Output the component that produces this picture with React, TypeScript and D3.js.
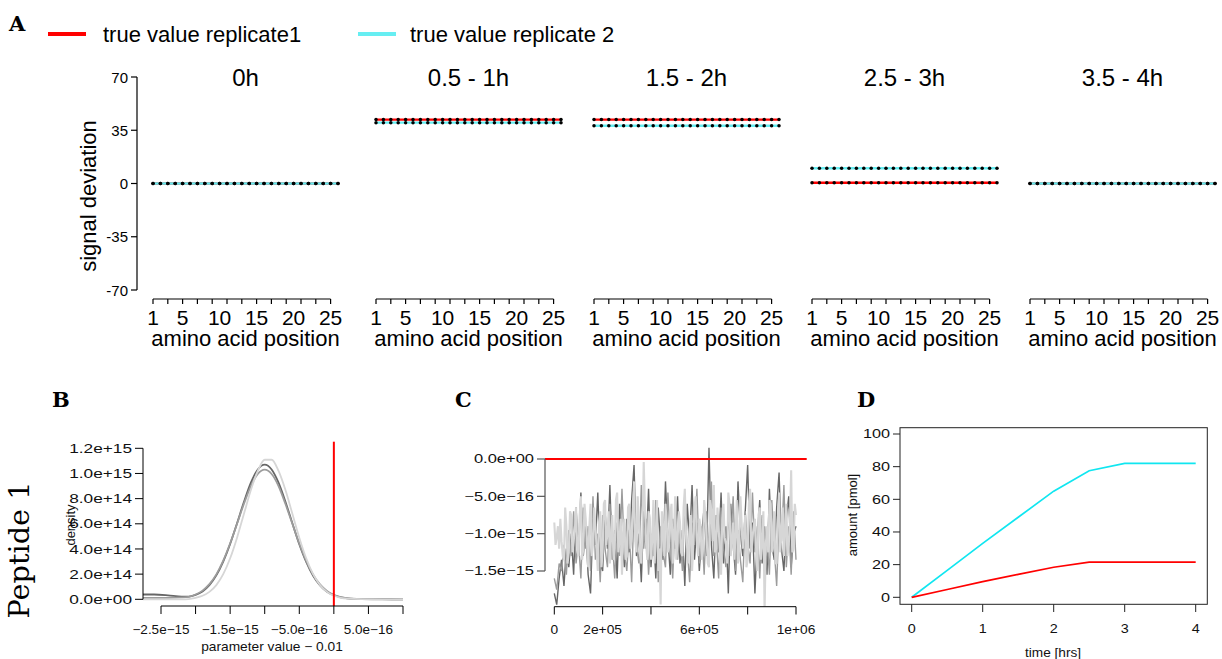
import React from "react";
import * as d3 from "d3";

const W = 1222;
const H = 659;
const sans = "'Liberation Sans', Arial, Helvetica, sans-serif";
const serif = "'DejaVu Serif', 'Liberation Serif', serif";

// ---------- A: signal deviation per amino acid position ----------
const timeWindows = ["0h", "0.5 - 1h", "1.5 - 2h", "2.5 - 3h", "3.5 - 4h"];
const replicate1Deviation = [0, 42, 42, 0.5, 0];
const replicate2Deviation = [0, 40, 38, 10, 0];
const peptideLength = 26;
const signalTicks = [-70, -35, 0, 35, 70];
const positionTickLabels = [1, 5, 10, 15, 20, 25];
const legendLabels = ["true value replicate1", "true value replicate 2"];

// ---------- B: posterior densities (x in 1e-16, density in 1e14) ----------
const densityGrid = [-28, -26, -24, -22, -21, -20, -19, -18, -17, -16, -15, -14, -13, -12, -11, -10, -9, -8, -7, -6, -5, -4, -3, -2, -1, 0, 1, 2, 4, 7, 10];
const densityChain1 = [0.38, 0.38, 0.32, 0.22, 0.22, 0.35, 0.62, 1.12, 1.9, 3.0, 4.4, 6.05, 7.75, 9.27, 10.32, 10.7, 10.32, 9.27, 7.75, 6.04, 4.38, 2.97, 1.87, 1.1, 0.6, 0.32, 0.16, 0.08, 0.03, 0.01, 0];
const densityChain2 = [0.12, 0.12, 0.12, 0.15, 0.2, 0.38, 0.69, 1.2, 1.98, 3.07, 4.45, 6.0, 7.6, 9.0, 9.96, 10.3, 9.96, 9.0, 7.57, 6.0, 4.43, 3.05, 1.96, 1.18, 0.67, 0.36, 0.17, 0.08, 0.02, 0, 0];
const densityChain3 = [0, 0, 0, 0, 0.02, 0.12, 0.28, 0.59, 1.13, 2.0, 3.26, 4.9, 6.8, 8.68, 10.2, 11.09, 11.09, 10.2, 8.68, 6.8, 4.9, 3.26, 2.0, 1.13, 0.59, 0.28, 0.12, 0.05, 0.01, 0, 0];
const densityYTicks = [0, 2, 4, 6, 8, 10, 12];
const densityXTicks = [-25, -20, -15, -10, -5, 0, 5, 10];
const densityXLabelled = [-25, -15, -5, 5];

// ---------- C: MCMC traces (values in 1e-16) ----------
const traceChain1 = [-18, -19.5, -16, -13.5, -17, -12, -14.5, -10, -15.5, -6.5, -12.5, -4.5, -13, -9, -15.5, -18, -8, -11.5, -4.5, -14, -15, -7, -12, -3.5, -13.5, -9.5, -16, -6, -11, -14.5, -8, -12.5, -5.5, -0.8, -13, -10, -16.5, -7, -12, -4, -14.5, -9.5, -16, -6.5, -11.5, -13.5, -3, -10.5, -15.5, -8, -12, -5, -14, -9.5, -17, -6, -11, -3.5, -13.5, -8.5, -15, -10, -6.5, -13, 1.5, -11.5, -16, -7.5, -12.5, -4.5, -14, -9, -18, -6, -11.5, -15.5, -3, -10, -13, -7, -0.8, -12, -8.5, -18, -10.5, -5.5, -14, -9, -15.5, -4, -11.5, -13.5, -6.5, -1.8, -12, -15, -8, -5, -14.5, -10, -9];
const traceChain2 = [-16, -17.5, -14, -15, -11.5, -15.5, -9.5, -13, -7, -14, -11, -16, -6.5, -12, -9, -15, -5, -13.5, -10, -16.5, -7.5, -12, -14.5, -6, -11, -16, -8.5, -13, -4, -12.5, -15, -9.5, -16.5, -6.5, -11.5, -14, -3.5, -12, -8, -15.5, -10, -13, -5.5, -16.5, -9, -12.5, -14.5, -4.5, -11, -16, -7.5, -13.5, -10, -15, -6, -12, -16.5, -8.5, -11.5, -4, -14, -9, -15.5, -7, -12.5, -3, -13, -10.5, -16, -6.5, -12, -14.5, -8, -11, -5, -15, -9.5, -13.5, -16.5, -7, -11.5, -14, -4.5, -12.5, -9, -16, -7.5, -13, -10.5, -15.5, -5.5, -12, -17, -8, -11, -3.5, -14.5, -9, -15.5, -7, -13.5];
const traceChain3 = [
  -8.5, -11.5, -10.5, -9, -12, -8, -11, -13, -13.5, -6.5, -9, -14, -12.5, -7, -7.5, -12.5, -11, -9.5, -6.5, -12,
  -13, -7.5, -5, -13.5, -12, -6, -8, -11, -14.5, -9, -6, -13, -11.5, -6.5, -9, -12, -15, -8.5, -7, -14.5,
  -12.5, -6, -5.5, -11.5, -10, -7, -14, -10.5, -7.5, -13.5, -12, -5.5, -4.5, -12.5, -11, -8, -15.5, -10, -8, -13.5,
  -13, -6.5, -6, -12, -10.5, -7.5, -3, -11, -12.5, -5, -8.5, -13, -14, -9.5, -0.4, -6.5, -11.5, -13.5, -7, -8,
  -13.5, -11, -5.5, -14, -10, -5.5, -15, -12, -19.5, -7, -9, -13, -6, -8.5, -12.5, -11, -7.5, -6, -14, -10.5,
  -5, -13.5, -11, -7, -8.5, -12.5, -13, -6.5, -4, -10, -12, -14, -9.5, -7.5, -15, -11.5, -6.5, -5, -11, -13,
  -8, -9, -13.5, -12, -5.5, -7.5, -10.5, -14, -14.5, -5.5, -7, -11, -3.5, -12.5, -12, -6.5, -9, -13, -15.5, -8,
  -6, -10.5, -11.5, -14, -4.5, -6, -13, -11, -8.5, -13.5, -10, -5.5, -14, -12, -5, -8.5, -12, -10, -7.5, -14.5,
  -13.5, -6, -4, -12.5, -10.5, -9, -8, -12, -15, -7.5, -6.5, -13.5, -11, -7, -20.5, -11.5, -9, -12.5, -5.5, -6,
  -12.5, -10.5, -7, -14, -14, -8, -4.5, -12.5, -10, -6.5, -13, -10, -6, -13, -11.5, -8.5, -1.5, -12.5, -12, -6,
  -7.5,
];
const iterations = 1e6;
const traceYTicks = [-15, -10, -5, 0];
const traceXTicks = [0, 2e5, 4e5, 6e5, 8e5, 1e6];
const traceXLabelled = [0, 2e5, 6e5, 1e6];
const traceXLabels = ["0", "2e+05", "6e+05", "1e+06"];

// ---------- D: simulated amounts ----------
const hours = [0, 0.5, 1, 1.5, 2, 2.5, 3, 3.5, 4];
const amountReplicate1 = [0, 4.8, 9.6, 14, 18.4, 21.5, 21.5, 21.5, 21.5];
const amountReplicate2 = [0, 16.5, 33, 49, 65, 77.5, 82, 82, 82];
const amountTicks = [0, 20, 40, 60, 80, 100];
const hourTicks = [0, 1, 2, 3, 4];

const RED = "#ff0000";
const CYAN_A = "#66eef2";
const CYAN_D = "#10e6f0";
const CHAIN_COLORS = ["#666666", "#9c9c9c", "#d6d6d6"];
const CHAIN_WIDTHS = [1.4, 1.4, 2.1];

// R-style scientific label, e.g. 1.2e+15, −5.0e−16
function sci(v: number, digits = 1): string {
  if (v === 0) return (0).toFixed(digits) + "e+00";
  const e = Math.floor(Math.log10(Math.abs(v)) + 1e-9);
  const m = v / Math.pow(10, e);
  const ms = m.toFixed(digits).replace("-", "\u2212");
  const es = String(Math.abs(e)).padStart(2, "0");
  return `${ms}e${e < 0 ? "\u2212" : "+"}${es}`;
}

type LabelProps = {
  x: number;
  y: number;
  size: number;
  anchor?: "start" | "middle" | "end";
  sx?: number;
  rotate?: number;
  weight?: string | number;
  family?: string;
  fill?: string;
  baseline?: string;
  textLength?: number;
  children: React.ReactNode;
};

function Label({ x, y, size, anchor = "middle", sx = 1, rotate = 0, weight = "normal", family = sans, fill = "#000", baseline = "central", textLength, children }: LabelProps) {
  return (
    <text
      transform={`translate(${x},${y}) rotate(${rotate}) scale(${sx},1)`}
      fontSize={size}
      textAnchor={anchor}
      fontFamily={family}
      fontWeight={weight}
      fill={fill}
      dominantBaseline={baseline}
      textLength={textLength}
      lengthAdjust={textLength ? "spacingAndGlyphs" : undefined}
    >
      {children}
    </text>
  );
}

function PanelA() {
  const yA = d3.scaleLinear().domain([-70, 70]).range([290, 77]);
  const xA = d3.scaleLinear().domain([1, peptideLength]).range([0, 185]);
  const positions = d3.range(1, peptideLength + 1);
  const axisTicks = d3.range(1, 26, 2);
  const facetLeft = (i: number) => (i === 0 ? 153 : 376 + (i - 1) * 218);
  const mid = xA((1 + peptideLength) / 2);
  const row = (v: number) => d3.line<number>().x((p) => xA(p)).y(() => yA(v))(positions) || "";

  return (
    <g>
      <Label x={9} y={31} size={21} anchor="start" family={serif} weight="bold" baseline="alphabetic">A</Label>
      {/* legend */}
      <line x1={48} x2={86} y1={34} y2={34} stroke={RED} strokeWidth={4} />
      <Label x={103} y={34} size={22} anchor="start">{legendLabels[0]}</Label>
      <line x1={358} x2={396} y1={34} y2={34} stroke={CYAN_A} strokeWidth={4} />
      <Label x={410} y={34} size={22} anchor="start">{legendLabels[1]}</Label>

      {/* y axis */}
      <line x1={137} x2={137} y1={yA(70)} y2={yA(-70)} stroke="#000" strokeWidth={1.2} />
      {signalTicks.map((t) => (
        <g key={t}>
          <line x1={131} x2={137} y1={yA(t)} y2={yA(t)} stroke="#000" strokeWidth={1.2} />
          <Label x={128} y={yA(t)} size={15} anchor="end">{t}</Label>
        </g>
      ))}
      <Label x={88} y={196} size={22} rotate={-90}>signal deviation</Label>

      {timeWindows.map((name, i) => (
        <g key={name} transform={`translate(${facetLeft(i)},0)`}>
          <Label x={mid} y={77} size={24}>{name}</Label>
          <path d={row(replicate1Deviation[i])} stroke={RED} strokeWidth={2.4} fill="none" />
          <path d={row(replicate2Deviation[i])} stroke={CYAN_A} strokeWidth={2.4} fill="none" />
          {[replicate1Deviation[i], replicate2Deviation[i]].map((v, r) =>
            positions.map((p) => <circle key={`${r}-${p}`} cx={xA(p)} cy={yA(v)} r={1.75} fill="#000" />)
          )}
          <line x1={xA(1)} x2={xA(25)} y1={299} y2={299} stroke="#000" strokeWidth={1.2} />
          {axisTicks.map((p) => (
            <line key={p} x1={xA(p)} x2={xA(p)} y1={299} y2={304} stroke="#000" strokeWidth={1.2} />
          ))}
          {positionTickLabels.map((p) => (
            <Label key={p} x={xA(p)} y={317} size={21}>{p}</Label>
          ))}
          <Label x={mid} y={338} size={22}>amino acid position</Label>
        </g>
      ))}
    </g>
  );
}

function PanelB() {
  const x = d3.scaleLinear().domain([-25, 10]).range([161, 403]);
  const y = d3.scaleLinear().domain([0, 12]).range([599.3, 448.3]);
  const chains = [densityChain1, densityChain2, densityChain3];
  const line = (vals: number[]) =>
    d3.line<number>().x((_, i) => x(densityGrid[i])).y((d) => y(d)).curve(d3.curveMonotoneX)(vals) || "";
  return (
    <g>
      <Label x={52} y={407} size={21} anchor="start" family={serif} weight="bold" baseline="alphabetic">B</Label>
      <Label x={19} y={550} size={28} rotate={-90} family={serif} textLength={137}>Peptide 1</Label>
      <defs>
        <clipPath id="clipB">
          <rect x={143} y={430} width={260} height={176} />
        </clipPath>
      </defs>
      <g clipPath="url(#clipB)">
        {chains.map((c, i) => (
          <path key={i} d={line(c)} stroke={CHAIN_COLORS[i]} strokeWidth={1.8} fill="none" />
        ))}
      </g>
      <line x1={x(0)} x2={x(0)} y1={441.7} y2={606} stroke={RED} strokeWidth={2} />
      {/* y axis */}
      <line x1={143} x2={143} y1={y(12)} y2={y(0)} stroke="#000" strokeWidth={1} />
      {densityYTicks.map((t) => (
        <g key={t}>
          <line x1={135} x2={143} y1={y(t)} y2={y(t)} stroke="#000" strokeWidth={1} />
          <Label x={132} y={y(t)} size={12.5} sx={1.38} anchor="end" fill="#111">{sci(t * 1e14)}</Label>
        </g>
      ))}
      <Label x={70} y={525} size={13} rotate={-90} fill="#111">density</Label>
      {/* x axis */}
      <line x1={x(-25)} x2={x(10)} y1={606} y2={606} stroke="#000" strokeWidth={1} />
      {densityXTicks.map((t) => (
        <line key={t} x1={x(t)} x2={x(t)} y1={606} y2={614} stroke="#000" strokeWidth={1} />
      ))}
      {densityXLabelled.map((t) => (
        <Label key={t} x={x(t)} y={630} size={12.5} sx={1.08} fill="#111">{sci(t * 1e-16)}</Label>
      ))}
      <Label x={272} y={647} size={12.5} sx={1.1} fill="#111">{"parameter value \u2212 0.01"}</Label>
    </g>
  );
}

function PanelC() {
  const x = d3.scaleLinear().domain([0, 1e6]).range([554.3, 796]);
  const y = d3.scaleLinear().domain([-15, 0]).range([571, 459]);
  const chains = [traceChain1, traceChain2, traceChain3];
  const line = (vals: number[]) =>
    d3.line<number>().x((_, i) => x((i * iterations) / (vals.length - 1))).y((d) => y(d))(vals) || "";
  return (
    <g>
      <Label x={455} y={407} size={21} anchor="start" family={serif} weight="bold" baseline="alphabetic">C</Label>
      <defs>
        <clipPath id="clipC">
          <rect x={545} y={446} width={262} height={160.5} />
        </clipPath>
      </defs>
      <g clipPath="url(#clipC)">
        {chains.map((c, i) => (
          <path key={i} d={line(c)} stroke={CHAIN_COLORS[i]} strokeWidth={CHAIN_WIDTHS[i]} fill="none" strokeLinejoin="bevel" />
        ))}
      </g>
      <line x1={545} x2={806.7} y1={y(0)} y2={y(0)} stroke={RED} strokeWidth={2} />
      {/* y axis */}
      <line x1={545} x2={545} y1={y(0)} y2={y(-15)} stroke="#555" strokeWidth={1.2} />
      {traceYTicks.map((t) => (
        <g key={t}>
          <line x1={537} x2={545} y1={y(t)} y2={y(t)} stroke="#555" strokeWidth={1.2} />
          <Label x={534} y={y(t)} size={12.5} sx={1.32} anchor="end" fill="#111">{sci(t * 1e-16)}</Label>
        </g>
      ))}
      {/* x axis */}
      <line x1={x(0)} x2={x(1e6)} y1={606.7} y2={606.7} stroke="#000" strokeWidth={1} />
      {traceXTicks.map((t) => (
        <line key={t} x1={x(t)} x2={x(t)} y1={606.7} y2={614.5} stroke="#000" strokeWidth={1} />
      ))}
      {traceXLabelled.map((t, i) => (
        <Label key={t} x={x(t)} y={630} size={12.5} sx={1.1} fill="#111">{traceXLabels[i]}</Label>
      ))}
    </g>
  );
}

function PanelD() {
  const x = d3.scaleLinear().domain([0, 4]).range([911.7, 1195.7]);
  const y = d3.scaleLinear().domain([0, 100]).range([597.3, 434]);
  const line = d3.line<number>().x((_, i) => x(hours[i])).y((d) => y(d));
  return (
    <g>
      <Label x={857} y={407} size={21} anchor="start" family={serif} weight="bold" baseline="alphabetic">D</Label>
      <rect x={900} y={427.7} width={307.3} height={176.6} fill="none" stroke="#222" strokeWidth={1} />
      <path d={line(amountReplicate2) || ""} stroke={CYAN_D} strokeWidth={1.7} fill="none" />
      <path d={line(amountReplicate1) || ""} stroke={RED} strokeWidth={1.7} fill="none" />
      {amountTicks.map((t) => (
        <g key={t}>
          <line x1={893} x2={900} y1={y(t)} y2={y(t)} stroke="#222" strokeWidth={1} />
          <Label x={890} y={y(t)} size={12.5} sx={1.3} anchor="end" fill="#111">{t}</Label>
        </g>
      ))}
      {hourTicks.map((t) => (
        <g key={t}>
          <line x1={x(t)} x2={x(t)} y1={604.3} y2={612} stroke="#222" strokeWidth={1} />
          <Label x={x(t)} y={629} size={12.5} sx={1.15} fill="#111">{t}</Label>
        </g>
      ))}
      <Label x={852.5} y={515} size={13} rotate={-90} fill="#111">amount [pmol]</Label>
      <Label x={1053} y={653} size={13} sx={1.05} fill="#111">time [hrs]</Label>
    </g>
  );
}

export default function App() {
  return (
    <svg width={W} height={H} style={{ position: "absolute", left: 0, top: 0, background: "#fff" }}>
      <rect width={W} height={H} fill="#fff" />
      <PanelA />
      <PanelB />
      <PanelC />
      <PanelD />
    </svg>
  );
}
